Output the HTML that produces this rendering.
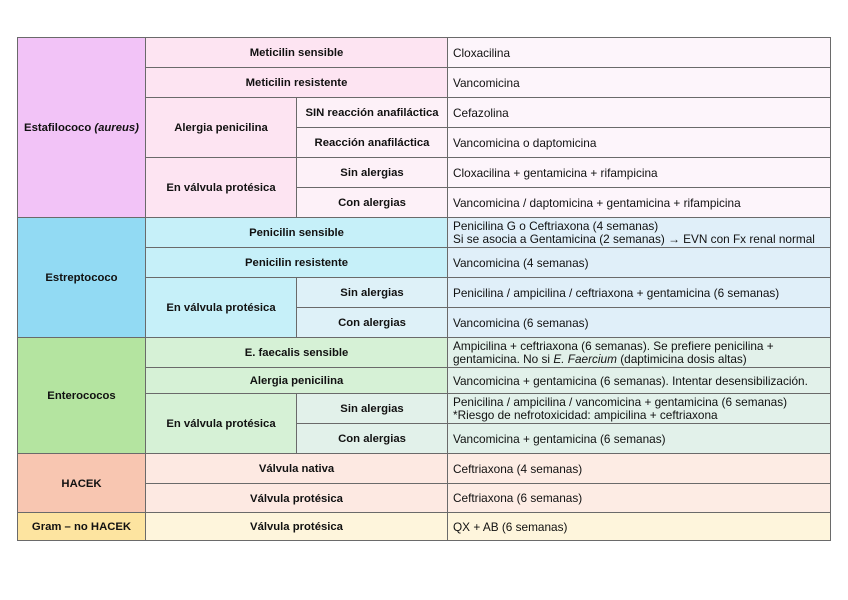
<!DOCTYPE html>
<html><head><meta charset="utf-8"><style>
body{margin:0;width:848px;height:600px;background:#fff;position:relative;overflow:hidden;font-family:"Liberation Sans",sans-serif;color:#111}
.c{position:absolute;box-sizing:border-box;border:1px solid #6a6a6a;display:flex;align-items:center;font-size:11.8px;line-height:13px}
.c>span{display:block}
.b{font-weight:bold;justify-content:center;text-align:center;font-size:11.3px;padding-top:2px}
.l{padding-left:5px;white-space:nowrap;padding-top:1px}
</style></head><body>
<div class="c b" style="left:17px;top:37px;width:129px;height:181px;background:#f2c3f7"><span>Estafilococo <i>(aureus)</i></span></div>
<div class="c b" style="left:145px;top:37px;width:303px;height:31px;background:#fde4f2"><span>Meticilin sensible</span></div>
<div class="c b" style="left:145px;top:67px;width:303px;height:31px;background:#fde4f2"><span>Meticilin resistente</span></div>
<div class="c b" style="left:145px;top:97px;width:152px;height:61px;background:#fde4f2"><span>Alergia penicilina</span></div>
<div class="c b" style="left:296px;top:97px;width:152px;height:31px;background:#fdf1f8"><span>SIN reacción anafiláctica</span></div>
<div class="c b" style="left:296px;top:127px;width:152px;height:31px;background:#fdf1f8"><span>Reacción anafiláctica</span></div>
<div class="c b" style="left:145px;top:157px;width:152px;height:61px;background:#fde4f2"><span>En válvula protésica</span></div>
<div class="c b" style="left:296px;top:157px;width:152px;height:31px;background:#fdf1f8"><span>Sin alergias</span></div>
<div class="c b" style="left:296px;top:187px;width:152px;height:31px;background:#fdf1f8"><span>Con alergias</span></div>
<div class="c l" style="left:447px;top:37px;width:384px;height:31px;background:#fdf5fb"><span>Cloxacilina</span></div>
<div class="c l" style="left:447px;top:67px;width:384px;height:31px;background:#fdf5fb"><span>Vancomicina</span></div>
<div class="c l" style="left:447px;top:97px;width:384px;height:31px;background:#fdf5fb"><span>Cefazolina</span></div>
<div class="c l" style="left:447px;top:127px;width:384px;height:31px;background:#fdf5fb"><span>Vancomicina o daptomicina</span></div>
<div class="c l" style="left:447px;top:157px;width:384px;height:31px;background:#fdf5fb"><span>Cloxacilina + gentamicina + rifampicina</span></div>
<div class="c l" style="left:447px;top:187px;width:384px;height:31px;background:#fdf5fb"><span>Vancomicina / daptomicina + gentamicina + rifampicina</span></div>
<div class="c b" style="left:17px;top:217px;width:129px;height:121px;background:#92daf3"><span>Estreptococo</span></div>
<div class="c b" style="left:145px;top:217px;width:303px;height:31px;background:#c6f0f9"><span>Penicilin sensible</span></div>
<div class="c b" style="left:145px;top:247px;width:303px;height:31px;background:#c6f0f9"><span>Penicilin resistente</span></div>
<div class="c b" style="left:145px;top:277px;width:152px;height:61px;background:#c6f0f9"><span>En válvula protésica</span></div>
<div class="c b" style="left:296px;top:277px;width:152px;height:31px;background:#def1f8"><span>Sin alergias</span></div>
<div class="c b" style="left:296px;top:307px;width:152px;height:31px;background:#def1f8"><span>Con alergias</span></div>
<div class="c l" style="left:447px;top:217px;width:384px;height:31px;background:#e0eff9"><span>Penicilina G o Ceftriaxona (4 semanas)<br>Si se asocia a Gentamicina (2 semanas) → EVN con Fx renal normal</span></div>
<div class="c l" style="left:447px;top:247px;width:384px;height:31px;background:#e0eff9"><span>Vancomicina (4 semanas)</span></div>
<div class="c l" style="left:447px;top:277px;width:384px;height:31px;background:#e0eff9"><span>Penicilina / ampicilina / ceftriaxona + gentamicina (6 semanas)</span></div>
<div class="c l" style="left:447px;top:307px;width:384px;height:31px;background:#e0eff9"><span>Vancomicina (6 semanas)</span></div>
<div class="c b" style="left:17px;top:337px;width:129px;height:117px;background:#b4e4a0"><span>Enterococos</span></div>
<div class="c b" style="left:145px;top:337px;width:303px;height:31px;background:#d6f1d6"><span>E. faecalis sensible</span></div>
<div class="c b" style="left:145px;top:367px;width:303px;height:27px;background:#d6f1d6"><span>Alergia penicilina</span></div>
<div class="c b" style="left:145px;top:393px;width:152px;height:61px;background:#d6f1d6"><span>En válvula protésica</span></div>
<div class="c b" style="left:296px;top:393px;width:152px;height:31px;background:#e2f1ea"><span>Sin alergias</span></div>
<div class="c b" style="left:296px;top:423px;width:152px;height:31px;background:#e2f1ea"><span>Con alergias</span></div>
<div class="c l" style="left:447px;top:337px;width:384px;height:31px;background:#e2f1ea"><span>Ampicilina + ceftriaxona (6 semanas). Se prefiere penicilina +<br>gentamicina. No si <i>E. Faercium</i> (daptimicina dosis altas)</span></div>
<div class="c l" style="left:447px;top:367px;width:384px;height:27px;background:#e2f1ea"><span>Vancomicina + gentamicina (6 semanas). Intentar desensibilización.</span></div>
<div class="c l" style="left:447px;top:393px;width:384px;height:31px;background:#e2f1ea"><span>Penicilina / ampicilina / vancomicina + gentamicina (6 semanas)<br>*Riesgo de nefrotoxicidad: ampicilina + ceftriaxona</span></div>
<div class="c l" style="left:447px;top:423px;width:384px;height:31px;background:#e2f1ea"><span>Vancomicina + gentamicina (6 semanas)</span></div>
<div class="c b" style="left:17px;top:453px;width:129px;height:60px;background:#f8c6b1"><span>HACEK</span></div>
<div class="c b" style="left:145px;top:453px;width:303px;height:31px;background:#fde9e2"><span>Válvula nativa</span></div>
<div class="c b" style="left:145px;top:483px;width:303px;height:30px;background:#fde9e2"><span>Válvula protésica</span></div>
<div class="c l" style="left:447px;top:453px;width:384px;height:31px;background:#fdece4"><span>Ceftriaxona (4 semanas)</span></div>
<div class="c l" style="left:447px;top:483px;width:384px;height:30px;background:#fdece4"><span>Ceftriaxona (6 semanas)</span></div>
<div class="c b" style="left:17px;top:512px;width:129px;height:29px;background:#fde4a0"><span>Gram – no HACEK</span></div>
<div class="c b" style="left:145px;top:512px;width:303px;height:29px;background:#fef5dc"><span>Válvula protésica</span></div>
<div class="c l" style="left:447px;top:512px;width:384px;height:29px;background:#fef5dc"><span>QX + AB (6 semanas)</span></div>
</body></html>
